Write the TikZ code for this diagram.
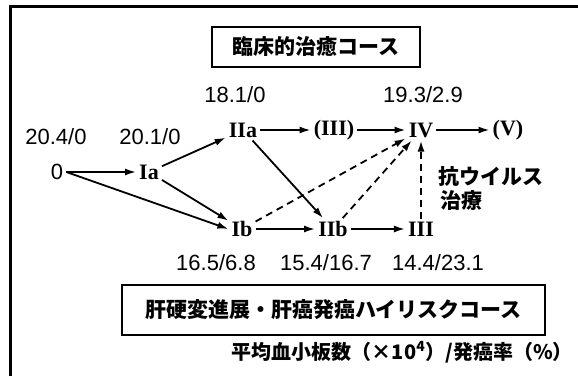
\documentclass[tikz,border=0pt]{standalone}
\usepackage{fontspec}
\setmainfont{Liberation Sans}
\newfontfamily\jpfont{Noto Sans CJK JP}
\newfontfamily\romfont{Liberation Serif}
\usetikzlibrary{arrows.meta}
\begin{document}
\begin{tikzpicture}[x=1pt,y=-1pt,
  st/.style={font=\romfont\bfseries\fontsize{22}{24}\selectfont, inner sep=3pt},
  num/.style={font=\fontsize{22}{24}\selectfont, inner sep=0pt},
  jtxt/.style={font=\jpfont\bfseries\fontsize{21}{24}\selectfont, inner sep=0pt},
  jbox/.style={draw, line width=1.8pt, font=\jpfont\bfseries\fontsize{21}{24}\selectfont, inner sep=0pt},
  arr/.style={line width=1.8pt, -{Latex[length=11pt,width=7pt]}},
  darr/.style={arr, dash pattern=on 7pt off 5pt}]
\useasboundingbox (0,0) rectangle (578,376);
\draw[line width=3pt] (10,376) -- (10,6) -- (578,6);

\node[jbox, minimum width=208pt, minimum height=40pt] (top) at (316,47) {臨床的治癒コース};
\node[jbox, minimum width=423pt, minimum height=50pt] (bot) at (333.5,310) {肝硬変進展・肝癌発癌ハイリスクコース};

\node[num, inner sep=3pt] (n0) at (57,172) {0};
\node[st] (Ia) at (149,172) {Ia};
\node[st] (IIa) at (243,130) {IIa};
\node[st] (IIIp) at (334,130) {(III)};
\node[st] (IV) at (421,130) {IV};
\node[st] (Vp) at (508,130) {(V)};
\node[st] (Ib) at (242,229) {Ib};
\node[st] (IIb) at (333,229) {IIb};
\node[st] (III) at (421,229) {III};

\node[num] (l1) at (235,95) {18.1/0};
\node[num] (l2) at (423,95) {19.3/2.9};
\node[num] (l3) at (56,137) {20.4/0};
\node[num] (l4) at (150,137) {20.1/0};
\node[num] (l5) at (216,263) {16.5/6.8};
\node[num] (l6) at (326,263) {15.4/16.7};
\node[num] (l7) at (438,263) {14.4/23.1};

\node[jtxt, anchor=west] (av) at (438,176) {抗ウイルス};
\node[jtxt, anchor=west] (tr) at (440,201) {治療};

\node[jtxt, anchor=east, font=\jpfont\bfseries\fontsize{20}{22}\selectfont] (legend) at (573,352) {平均血小板数（×10\textsuperscript{4}）/発癌率（\%）};

\draw[arr] (n0.east) -- (Ia.west);
\draw[arr] (n0.east) -- (Ib.west);
\draw[arr] (Ia) -- (IIa);
\draw[arr] (Ia) -- (Ib);
\draw[arr] (IIa) -- (IIIp);
\draw[arr] (IIIp) -- (IV);
\draw[arr] (IV) -- (Vp);
\draw[arr] (IIa) -- (IIb);
\draw[arr] (Ib) -- (IIb);
\draw[arr] (IIb) -- (III);
\draw[darr] (Ib) -- (IV);
\draw[darr] (IIb) -- (IV);
\draw[darr] (III) -- (IV);
\end{tikzpicture}
\end{document}
